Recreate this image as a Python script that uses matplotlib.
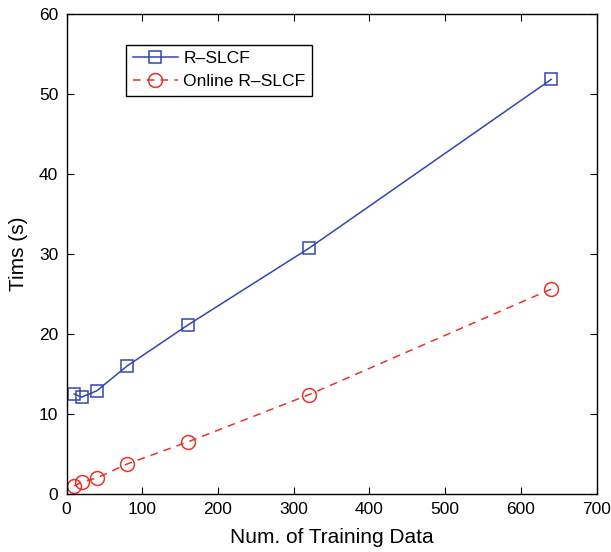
import matplotlib
matplotlib.use("Agg")
import matplotlib.pyplot as plt

# training set sizes and run times (seconds)
num_train = [10, 20, 40, 80, 160, 320, 640]
time_rslcf = [12.5, 12.1, 12.9, 16.0, 21.1, 30.7, 51.8]
time_online = [1.0, 1.5, 2.0, 3.75, 6.5, 12.4, 25.6]

plt.rcParams['font.family'] = ['Liberation Sans', 'DejaVu Sans']
plt.rcParams['font.size'] = 12.5

fig = plt.figure(figsize=(6.11, 5.52), dpi=100)
ax = fig.add_axes([0.109, 0.1051, 0.8675, 0.870])

ax.plot(num_train, time_rslcf, '-s', color='#3346ad', lw=1.1, ms=8,
        mfc='none', mew=1.1, label='R\u2013SLCF')
ax.plot(num_train, time_online, '--o', color='#e8322a', lw=1.1, ms=10,
        mfc='none', mew=1.1, dashes=(5, 4), label='Online R\u2013SLCF')

ax.set_xlim(0, 700)
ax.set_ylim(0, 60)
ax.set_xticks(range(0, 701, 100))
ax.set_yticks(range(0, 61, 10))
ax.tick_params(direction='in', top=True, right=True, length=5, width=0.8,
               pad=6, labelsize=12.5)
for s in ax.spines.values():
    s.set_linewidth(1.0)

ax.set_xlabel('Num. of Training Data', fontsize=15, labelpad=8)
ax.set_ylabel('Tims (s)', fontsize=15, labelpad=8)

leg = ax.legend(loc='upper left', bbox_to_anchor=(0.113, 0.935),
                fancybox=False, edgecolor='black', framealpha=1,
                fontsize=12.6, handlelength=2.6, borderpad=0.35,
                labelspacing=0.45, handletextpad=0.3, borderaxespad=0)
leg.get_frame().set_linewidth(1.0)

fig.savefig('out.png', dpi=100)
